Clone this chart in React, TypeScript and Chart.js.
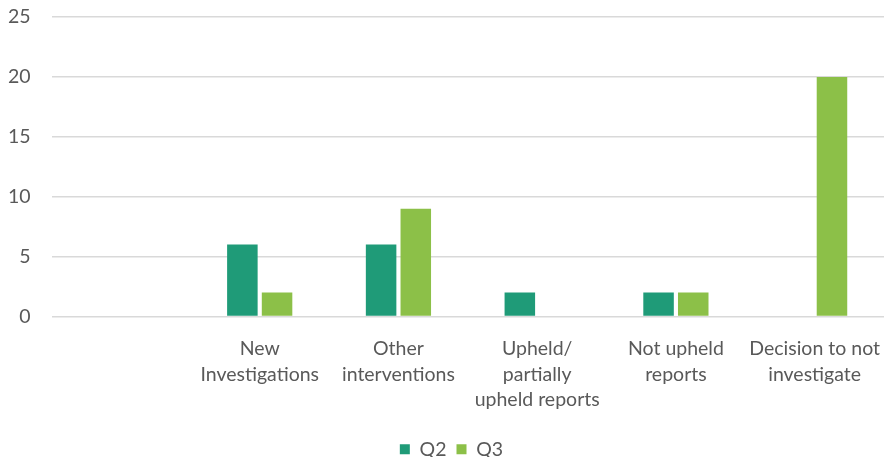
import React, { useEffect, useRef } from "react";
import { Chart, registerables } from "chart.js";

Chart.register(...registerables);

const categories: (string | string[])[] = [
  "",
  ["New", "Investigations"],
  ["Other", "interventions"],
  ["Upheld/", "partially", "upheld reports"],
  ["Not upheld", "reports"],
  ["Decision to not", "investigate"],
];
const q2Values = [null, 6, 6, 2, 2, 0];
const q3Values = [null, 2, 9, 0, 2, 20];
const yMax = 25;
const yStep = 5;

const FONT = "Lato, 'Open Sans', sans-serif";

const shiftLegend = {
  id: "shiftLegend",
  afterLayout(chart: any) {
    const l = chart.legend;
    if (l) {
      l.left += 16;
      l.right += 16;
    }
  },
};

export default function App() {
  const ref = useRef<HTMLCanvasElement | null>(null);
  useEffect(() => {
    document.body.style.margin = "0";
    const ctx = ref.current!;
    const chart = new Chart(ctx, {
      type: "bar",
      data: {
        labels: categories as any,
        datasets: [
          {
            label: "Q2",
            data: q2Values as any,
            backgroundColor: "#1f9b78",
            barPercentage: 0.88,
            categoryPercentage: 0.5,
          },
          {
            label: "Q3",
            data: q3Values as any,
            backgroundColor: "#8cc048",
            barPercentage: 0.88,
            categoryPercentage: 0.5,
          },
        ],
      },
      plugins: [shiftLegend],
      options: {
        animation: false,
        responsive: false,
        maintainAspectRatio: false,
        layout: { padding: { top: 17, right: 0, left: -13, bottom: -12 } },
        plugins: {
          tooltip: { enabled: false },
          legend: {
            position: "bottom",
            labels: {
              boxWidth: 10,
              boxHeight: 10,
              padding: 10,
              color: "#595959",
              font: { family: FONT, size: 19.5 },
            },
          },
        },
        scales: {
          x: {
            grid: { display: false },
            border: { display: false },
            afterFit: (s: any) => {
              s.paddingLeft = 0;
              s.paddingRight = 0;
              s.height += 5;
            },
            ticks: {
              color: "#595959",
              font: { family: FONT, size: 19.5, lineHeight: 1.3 },
              maxRotation: 0,
              autoSkip: false,
              padding: 12,
            },
          },
          y: {
            min: 0,
            max: yMax,
            afterFit: (s: any) => {
              s.paddingTop = 0;
              s.paddingBottom = 0;
            },
            grid: { color: "#d9d9d9", lineWidth: 1.5, drawTicks: false },
            border: { display: false },
            ticks: {
              stepSize: yStep,
              color: "#595959",
              font: { family: FONT, size: 19.5 },
              padding: 21,
            },
          },
        },
      },
    });
    return () => chart.destroy();
  }, []);
  return <canvas ref={ref} width={884} height={457} style={{ display: "block" }} />;
}
